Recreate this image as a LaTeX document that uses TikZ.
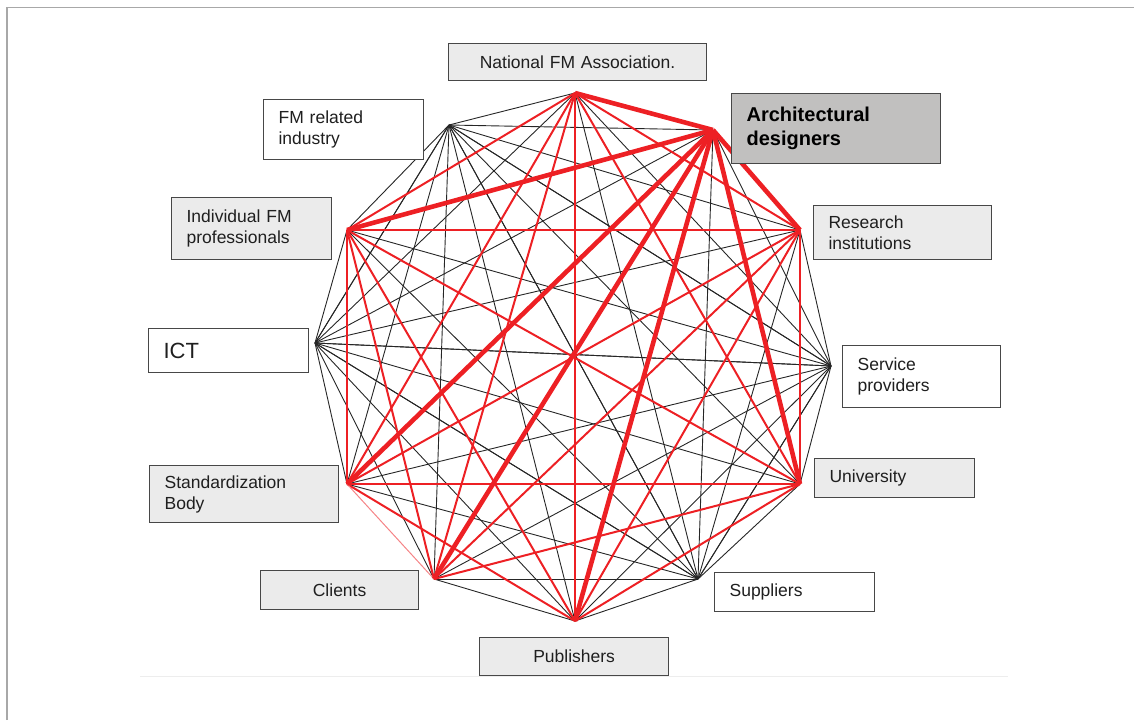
\documentclass[tikz,border=0pt]{standalone}
\usepackage{fontspec}
\setmainfont{Liberation Sans}
\usetikzlibrary{positioning}
\definecolor{linkred}{HTML}{ED2024}
\definecolor{boxgray}{HTML}{EBEBEB}
\definecolor{archgray}{HTML}{C1C0BF}
\definecolor{framegray}{HTML}{A8A8A8}
\tikzset{
  actor/.style={rectangle, draw=black!72, line width=1.2pt, fill=boxgray,
                anchor=north west, inner xsep=15pt, inner ysep=0pt, align=left,
                text=black!88, font=\fontsize{17.5}{21}\selectfont},
  actorw/.style={actor, fill=white},
  tie/.style={black!85, line width=0.9pt},
  redtie/.style={linkred, line width=2pt},
  keytie/.style={linkred, line width=4.6pt},
  faintie/.style={linkred!55, line width=1pt},
}

\begin{document}
\begin{tikzpicture}[x=1pt, y=-1pt]
  \useasboundingbox (0,0) rectangle (1134,720);
  \draw[framegray, line width=1.2pt] (7,720) -- (7,7.5) -- (1134,7.5);
  \draw[black!7, line width=1pt] (140,676) -- (1008,676);

  % corners of the network
  \coordinate (nfm)  at (575,93);
  \coordinate (arch) at (713,130);
  \coordinate (res)  at (800,230);
  \coordinate (serv) at (831,366);
  \coordinate (uni)  at (800,484);
  \coordinate (sup)  at (698,579);
  \coordinate (pub)  at (575,621);
  \coordinate (cli)  at (434,579);
  \coordinate (std)  at (347,484);
  \coordinate (ict)  at (315,343);
  \coordinate (ind)  at (347,230);
  \coordinate (fmr)  at (449,125);

  % black links
  \foreach \b in {serv,sup,ict,fmr}
    \foreach \v in {nfm,arch,res,serv,uni,sup,pub,cli,std,ict,ind,fmr}
      \draw[tie] (\b) -- (\v);
  \draw[tie] (cli) -- (pub);

  % red links
  \foreach \a/\rest in {nfm/{res,uni,pub,cli,std,ind}, res/{uni,pub,cli,std,ind},
                        uni/{pub,cli,std,ind}, pub/{std,ind}, cli/{ind}, std/{ind}}
    \foreach \b in \rest
      \draw[redtie] (\a) -- (\b);
  \draw[faintie] (std) -- (cli);
  \foreach \v in {nfm,res,uni,pub,cli,std,ind}
    \draw[keytie] (arch) -- (\v);

  % boxes
  \node[actor, text width=228pt, minimum height=37pt, align=center] (nfmbox) at (448,43) {National FM Association.};
  \node[actor, fill=archgray, text width=179pt, minimum height=70pt,
        font=\fontsize{20}{24}\selectfont\bfseries, text=black] (archbox) at (731,93) {Architectural\\designers};
  \node[actor, text width=148pt, minimum height=54pt] (resbox) at (813,205) {Research\\institutions};
  \node[actorw, text width=128pt, minimum height=62pt] (servbox) at (842,345) {Service\\providers};
  \node[actor, text width=130pt, minimum height=39pt] (unibox) at (814,458) {University};
  \node[actorw, text width=130pt, minimum height=39pt] (supbox) at (714,572) {Suppliers};
  \node[actor, text width=159pt, minimum height=38pt, align=center] (pubbox) at (479,637) {Publishers};
  \node[actor, text width=128pt, minimum height=39pt, align=center] (clibox) at (260,570) {Clients};
  \node[actor, text width=159pt, minimum height=57pt] (stdbox) at (149,465) {Standardization\\Body};
  \node[actorw, text width=130pt, minimum height=44pt,
        font=\fontsize{22}{26}\selectfont] (ictbox) at (148,328) {ICT};
  \node[actor, text width=130pt, minimum height=62pt] (indbox) at (171,197) {Individual FM\\professionals};
  \node[actorw, text width=130pt, minimum height=60pt] (fmrbox) at (263,99) {FM related\\industry};
\end{tikzpicture}
\end{document}
